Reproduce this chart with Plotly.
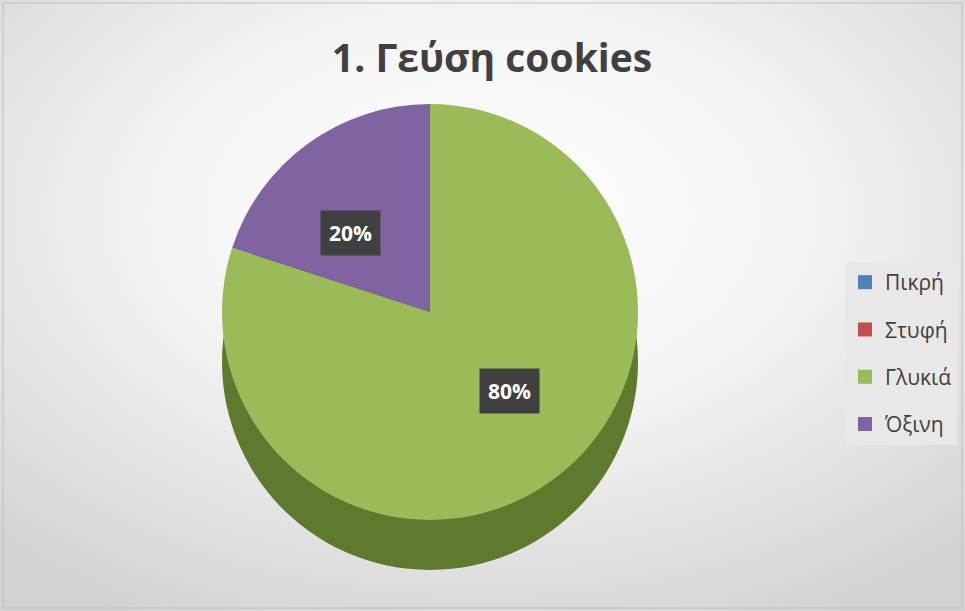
import base64
import math
import plotly.graph_objects as go

# ---- data ----
title_text = "1. Γεύση cookies"
labels = ["Πικρή", "Στυφή", "Γλυκιά", "Όξινη"]
values = [0, 0, 80, 20]
colors = ["#4f81bd", "#c0504d", "#9bbb59", "#8064a2"]
side_colors = ["#3b618e", "#8f3b39", "#5f7a2f", "#5a4677"]

W, H = 965, 611

# pie geometry (pixels)
cx, cy, R = 430, 312, 208
depth = 50

def dom(cx_, cy_, r_):
    return dict(x=[(cx_ - r_) / W, (cx_ + r_) / W],
                y=[1 - (cy_ + r_) / H, 1 - (cy_ - r_) / H])

fig = go.Figure()

# 3D-like side (same data, darker, shifted down)
fig.add_trace(go.Pie(
    labels=labels, values=values, sort=False, direction="clockwise", rotation=0,
    marker=dict(colors=side_colors, line=dict(width=0)),
    textinfo="none", hoverinfo="skip", showlegend=False,
    domain=dom(cx, cy + depth, R),
))

# top face
fig.add_trace(go.Pie(
    labels=labels, values=values, sort=False, direction="clockwise", rotation=0,
    marker=dict(colors=colors, line=dict(width=0)),
    textinfo="none", showlegend=False,
    domain=dom(cx, cy, R),
))

# legend entries
for lab, col in zip(labels, colors):
    fig.add_trace(go.Scatter(
        x=[None], y=[None], mode="markers", name=lab, legendgroup=lab,
        marker=dict(symbol="square", size=14, color=col),
    ))

# data labels computed from values
total = sum(values)
annotations = []
cum = 0.0
for v in values:
    if v > 0:
        mid = (cum + v / 2) / total * 2 * math.pi
        px = cx + 0.65 * R * math.sin(mid)
        py = cy - 0.47 * R * math.cos(mid)
        annotations.append(dict(
            x=px / W, y=1 - py / H, xref="paper", yref="paper",
            text=f"<b>{round(v / total * 100)}%</b>", showarrow=False,
            font=dict(family="Open Sans", size=21, color="#ffffff"),
            bgcolor="#404040", borderpad=8,
        ))
    cum += v

svg = f'''<svg xmlns="http://www.w3.org/2000/svg" width="{W}" height="{H}">
<defs><radialGradient id="g" cx="50%" cy="35%" r="75%">
<stop offset="0%" stop-color="#ffffff"/><stop offset="45%" stop-color="#f3f3f3"/>
<stop offset="100%" stop-color="#d2d2d2"/></radialGradient></defs>
<rect width="{W}" height="{H}" fill="url(#g)"/></svg>'''
bg_uri = "data:image/svg+xml;base64," + base64.b64encode(svg.encode()).decode()

fig.update_layout(
    width=W, height=H, margin=dict(l=0, r=0, t=0, b=0),
    paper_bgcolor="#eeeeee", plot_bgcolor="rgba(0,0,0,0)",
    title=dict(text=f"<b>{title_text}</b>", x=492 / W, xanchor="center",
               y=1 - 58 / H, yanchor="middle",
               font=dict(family="Open Sans", size=39, color="#404040")),
    xaxis=dict(visible=False), yaxis=dict(visible=False),
    legend=dict(x=845 / W, y=1 - 262 / H, xanchor="left", yanchor="top",
                bgcolor="#e8e8e8", borderwidth=0, tracegroupgap=17,
                font=dict(family="Open Sans", size=21, color="#404040"),
                itemwidth=30),
    annotations=annotations,
    images=[dict(source=bg_uri, xref="paper", yref="paper", x=0, y=1,
                 sizex=1, sizey=1, sizing="stretch", layer="below",
                 xanchor="left", yanchor="top")],
    shapes=[dict(type="rect", xref="paper", yref="paper",
                 x0=3 / W, x1=1 - 3 / W, y0=3 / H, y1=1 - 3 / H,
                 line=dict(color="#bfbfbf", width=1))],
)

fig.write_html("out.html")
